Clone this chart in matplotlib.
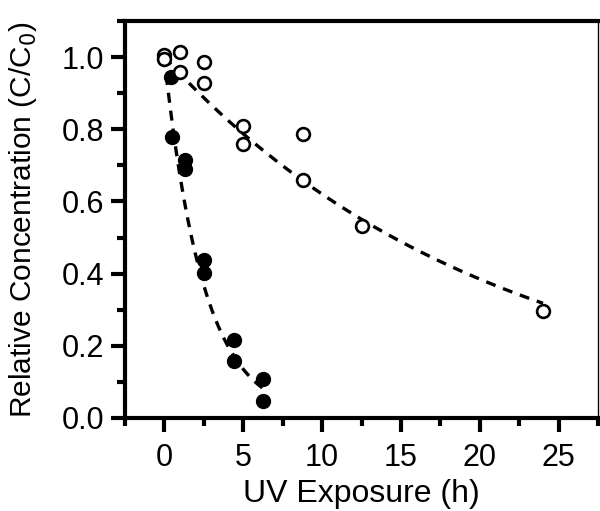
import numpy as np
import matplotlib
matplotlib.use("Agg")
import matplotlib.pyplot as plt
from matplotlib.ticker import MultipleLocator

plt.rcParams['font.family'] = ['Liberation Sans', 'DejaVu Sans']

# Open circles (slow series)
open_t = [0.0, 0.0, 1.0, 1.0, 2.5, 2.5, 5.0, 5.0, 8.8, 8.8, 12.5, 24.0]
open_c = [1.005, 0.994, 1.013, 0.959, 0.985, 0.929, 0.809, 0.758, 0.788, 0.660, 0.533, 0.297]

# Filled circles (fast series)
fill_t = [0.4, 0.48, 1.3, 1.3, 2.49, 2.49, 4.39, 4.39, 6.27, 6.27]
fill_c = [0.945, 0.778, 0.716, 0.690, 0.439, 0.401, 0.216, 0.157, 0.109, 0.047]

def first_order_k(t, c):
    t = np.asarray(t, float)
    c = np.asarray(c, float)
    return -np.sum(t * np.log(c)) / np.sum(t * t)

fig = plt.figure(figsize=(6.0, 5.11), dpi=100)
ax = fig.add_axes([0.208, 0.182, 0.789, 0.777])

k_fill = first_order_k(fill_t, fill_c)
k_open = first_order_k(open_t, open_c)
tf = np.linspace(0, max(fill_t), 200)
to = np.linspace(0, max(open_t), 400)
dash = (0, (3.0, 2.4))
ax.plot(tf, np.exp(-k_fill * tf), color='black', lw=2.4, linestyle=dash, zorder=2)
ax.plot(to, np.exp(-k_open * to), color='black', lw=2.4, linestyle=dash, zorder=2)

ax.plot(fill_t, fill_c, 'o', ms=10, color='black', zorder=3)
ax.plot(open_t, open_c, 'o', ms=9.2, mfc='white', mec='black', mew=1.9, zorder=3)

ax.set_xlim(-2.5, 27.5)
ax.set_ylim(0, 1.1)
ax.xaxis.set_major_locator(MultipleLocator(5))
ax.xaxis.set_minor_locator(MultipleLocator(2.5))
ax.yaxis.set_major_locator(MultipleLocator(0.2))
ax.yaxis.set_minor_locator(MultipleLocator(0.1))
ax.set_yticks([0.0, 0.2, 0.4, 0.6, 0.8, 1.0])
ax.set_yticklabels(['0.0', '0.2', '0.4', '0.6', '0.8', '1.0'])

for s in ['left', 'bottom', 'top']:
    ax.spines[s].set_linewidth(3.0)
ax.spines['right'].set_linewidth(1.0)

ax.tick_params(which='major', direction='out', length=10, width=3.0, labelsize=22, pad=5)
ax.tick_params(axis='x', which='major', pad=8)
ax.tick_params(which='minor', direction='out', length=5.5, width=3.0)
ax.tick_params(top=False, right=False)

ax.set_xlabel('UV Exposure (h)', fontsize=23, labelpad=4)
ax.set_ylabel('Relative Concentration (C/C$_0$)', fontsize=21.5, labelpad=16)

fig.savefig('out.png', dpi=100)
